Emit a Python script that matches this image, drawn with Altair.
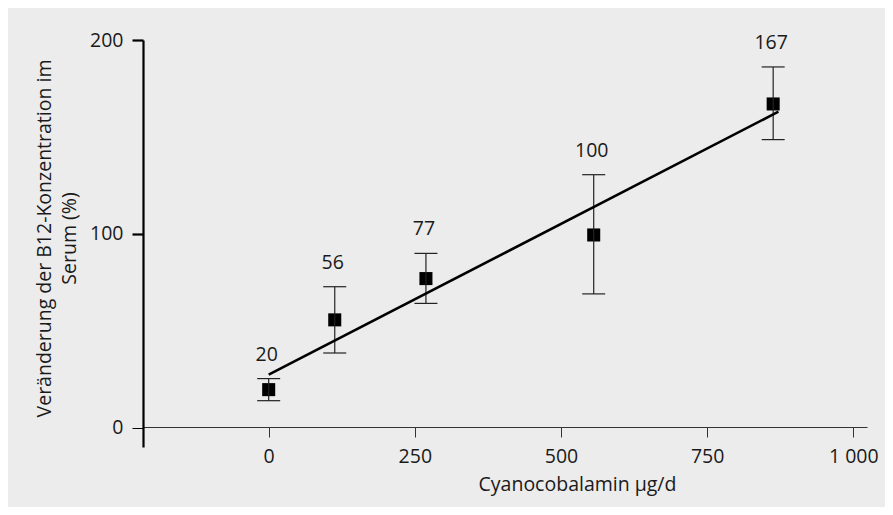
import altair as alt
import pandas as pd

# Data
dose = [0, 113, 269, 556, 863]
mean = [19.6, 55.6, 76.9, 99.4, 167.0]
err_lo = [13.9, 38.5, 64.1, 69.0, 148.6]
err_hi = [25.3, 72.7, 89.9, 130.5, 186.1]
labels = ["20", "56", "77", "100", "167"]

fit_x = [0, 872]
fit_y = [27.3, 163.0]

x_ticks = [0, 250, 500, 750, 1000]
y_ticks = [0, 100, 200]

df = pd.DataFrame({"dose": dose, "mean": mean, "lo": err_lo, "hi": err_hi, "label": labels})
fit = pd.DataFrame({"dose": fit_x, "fit": fit_y})

FONT = "Open Sans"
TXT = "#1a1a1a"
FS = 19.5

xscale = alt.Scale(domain=[-215, 1023.5], nice=False, zero=False)
yscale = alt.Scale(domain=[-10, 200], nice=False, zero=False)

xaxis = alt.Axis(
    values=x_ticks, grid=False, offset=-20,
    domainColor="#333333", domainWidth=1,
    tickColor="#333333", tickWidth=1, tickSize=10,
    labelFontSize=FS, labelFont=FONT, labelColor=TXT, labelPadding=10,
    labelExpr="datum.value == 1000 ? '1 000' : datum.label",
    title="Cyanocobalamin μg/d", titleFont=FONT, titleFontSize=FS,
    titleFontWeight="normal", titleColor=TXT,
    titleX=434, titleY=48, titleAlign="center", titleBaseline="top",
)
yaxis = alt.Axis(
    values=y_ticks, grid=False,
    domainColor="#000000", domainWidth=2.2,
    tickColor="#000000",
    tickWidth={"condition": {"test": "datum.value == 0", "value": 1}, "value": 2.2},
    tickSize=11,
    labelFontSize=FS, labelFont=FONT, labelColor=TXT, labelPadding=9,
    title=["Veränderung der B12-Konzentration im", "Serum (%)"],
    titleFont=FONT, titleFontSize=FS, titleFontWeight="normal", titleColor=TXT,
    titleLineHeight=25, titleAngle=-90, titleAlign="center", titleBaseline="bottom",
    titleX=-89, titleY=198,
)

base = alt.Chart(df)

points = base.mark_square(size=170, color="#000000", opacity=1, filled=True).encode(
    x=alt.X("dose:Q", scale=xscale, axis=xaxis),
    y=alt.Y("mean:Q", scale=yscale, axis=yaxis),
)

bars = base.mark_rule(color="#222222", strokeWidth=1.2).encode(
    x="dose:Q", y="lo:Q", y2="hi:Q"
)
cap_hi = base.mark_rule(color="#222222", strokeWidth=1.2, xOffset=-11.5, x2Offset=11.5).encode(
    x="dose:Q", x2="dose:Q", y="hi:Q"
)
cap_lo = base.mark_rule(color="#222222", strokeWidth=1.2, xOffset=-11.5, x2Offset=11.5).encode(
    x="dose:Q", x2="dose:Q", y="lo:Q"
)

line = alt.Chart(fit).mark_line(color="#000000", strokeWidth=2.6).encode(
    x="dose:Q", y="fit:Q"
)

text = base.mark_text(font=FONT, fontSize=FS, color=TXT, dy=-24, dx=-2, baseline="middle").encode(
    x="dose:Q", y="hi:Q", text="label:N"
)

chart = alt.layer(points, bars, cap_hi, cap_lo, line, text).properties(
    width=724, height=407,
    autosize=alt.AutoSizeParams(type="none"),
    padding={"left": 135, "top": 32, "right": 18, "bottom": 60},
    background="#ececec",
).configure_view(strokeWidth=0)

chart.save("out.html", embed_options={"renderer": "svg", "actions": False})
